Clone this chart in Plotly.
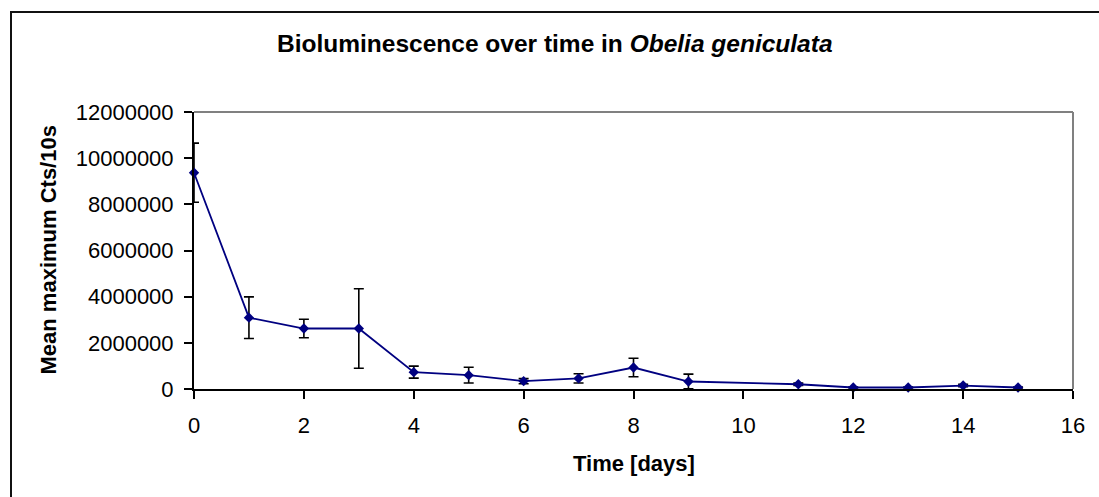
import plotly.graph_objects as go

# Days after collection
days = [0, 1, 2, 3, 4, 5, 6, 7, 8, 9, 11, 12, 13, 14, 15]
# Mean maximum counts per 10 s
mean_cts = [9370000, 3090000, 2620000, 2620000, 730000, 600000, 340000, 460000,
            930000, 325000, 205000, 65000, 65000, 150000, 65000]
# Error (+/-)
err_cts = [1280000, 900000, 400000, 1720000, 260000, 340000, 110000, 200000,
           400000, 320000, 50000, 20000, 20000, 50000, 20000]

y_ticks = [0, 2000000, 4000000, 6000000, 8000000, 10000000, 12000000]
x_ticks = [0, 2, 4, 6, 8, 10, 12, 14, 16]

FONT = "Liberation Sans, Arial, sans-serif"
NAVY = "#000080"

W, H = 1099, 497
L, R, T, B = 194, 26, 112, 108
pw, ph = W - L - R, H - T - B


def px_to_paper_x(px):
    return (px - L) / pw


def px_to_paper_y(py):
    return (H - B - py) / ph


fig = go.Figure()
fig.add_trace(go.Scatter(
    x=days, y=mean_cts,
    mode="lines+markers",
    line=dict(color=NAVY, width=1.8),
    marker=dict(symbol="diamond", size=8, color=NAVY),
    error_y=dict(type="data", array=err_cts, visible=True,
                 color="black", thickness=1.6, width=5),
    cliponaxis=False,
    showlegend=False,
))

fig.update_xaxes(
    range=[0, 16], tickvals=x_ticks, ticktext=[str(v) for v in x_ticks],
    showline=True, linecolor="black", linewidth=2,
    ticks="outside", ticklen=8, tickwidth=2, tickcolor="black",
    ticklabelstandoff=8,
    showgrid=False, zeroline=False,
    tickfont=dict(family=FONT, size=22, color="black"),
)
fig.update_yaxes(
    range=[0, 12000000], tickvals=y_ticks, ticktext=[str(v) for v in y_ticks],
    showline=True, linecolor="black", linewidth=2,
    ticks="outside", ticklen=8, tickwidth=2, tickcolor="black",
    ticklabelstandoff=6,
    showgrid=False, zeroline=False,
    tickfont=dict(family=FONT, size=22, color="black"),
)

shapes = [
    # top and right plot-area border
    dict(type="line", xref="paper", yref="paper", x0=0, x1=1, y0=1, y1=1,
         line=dict(color="#808080", width=2)),
    dict(type="line", xref="paper", yref="paper", x0=1, x1=1, y0=0, y1=1,
         line=dict(color="#808080", width=2)),
    # chart-area frame (left and top edges)
    dict(type="line", xref="paper", yref="paper",
         x0=px_to_paper_x(11), x1=px_to_paper_x(11),
         y0=px_to_paper_y(H + 10), y1=px_to_paper_y(11),
         line=dict(color="#111111", width=2)),
    dict(type="line", xref="paper", yref="paper",
         x0=px_to_paper_x(10), x1=px_to_paper_x(W + 10),
         y0=px_to_paper_y(12), y1=px_to_paper_y(12),
         line=dict(color="#111111", width=2)),
]

annotations = [
    dict(text="<b>Bioluminescence over time in <i>Obelia geniculata</i></b>",
         xref="paper", yref="paper", x=px_to_paper_x(555), y=px_to_paper_y(43),
         xanchor="center", yanchor="middle", showarrow=False,
         font=dict(family=FONT, size=24.5, color="black")),
    dict(text="<b>Time [days]</b>",
         xref="paper", yref="paper", x=0.5, y=px_to_paper_y(463),
         xanchor="center", yanchor="middle", showarrow=False,
         font=dict(family=FONT, size=22, color="black")),
    dict(text="<b>Mean maximum Cts/10s</b>", textangle=-90,
         xref="paper", yref="paper", x=px_to_paper_x(48), y=0.5,
         xanchor="center", yanchor="middle", showarrow=False,
         font=dict(family=FONT, size=22, color="black")),
]

fig.update_layout(
    width=W, height=H,
    margin=dict(l=L, r=R, t=T, b=B),
    paper_bgcolor="white", plot_bgcolor="white",
    shapes=shapes, annotations=annotations,
    showlegend=False,
)

fig.write_html("out.html")
